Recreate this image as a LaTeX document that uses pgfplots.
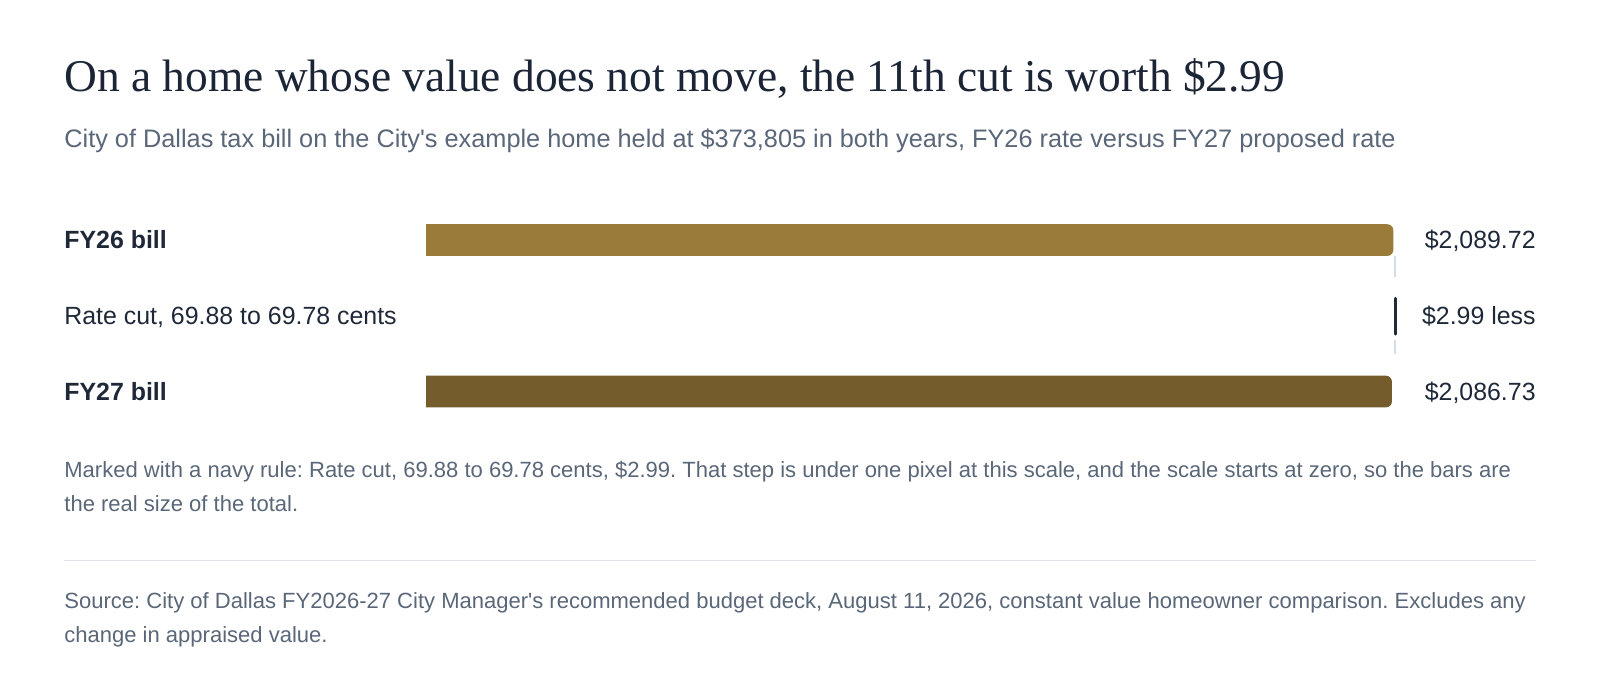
\documentclass[border=0pt]{standalone}
\usepackage{pgfplots}
\pgfplotsset{compat=1.18}
\usepackage{fontspec}
\setmainfont{Liberation Sans}
\newfontfamily\titlefont{Liberation Serif}
\definecolor{TitleInk}{HTML}{1B2535}
\definecolor{LabelInk}{HTML}{1E2838}
\definecolor{NoteInk}{HTML}{5A6778}
\definecolor{BarOld}{HTML}{9A7B3A}
\definecolor{BarNew}{HTML}{745C2C}
\definecolor{Navy}{HTML}{1F2A3A}
\definecolor{Guide}{HTML}{D6DCE3}
\definecolor{Rule}{HTML}{E0E3E7}

% 1 unit = 1 px of the 1600x694 reference
\begin{document}
\frenchspacing
\begin{tikzpicture}[x=0.5bp,y=-0.5bp]
    \path[use as bounding box] (0,0) rectangle (1600,694);
    \coordinate (plotcorner) at (426,429.4);

    % title and subtitle
    \node[anchor=base west, inner sep=0pt, text=TitleInk,
          font=\titlefont\fontsize{22.8}{26}\selectfont] at (64,91.7)
        {On a home whose value does not move, the 11th cut is worth \$2.99};
    \node[anchor=base west, inner sep=0pt, text=NoteInk,
          font=\fontsize{12.7}{15}\selectfont] at (64,148)
        {City of Dallas tax bill on the City\textquotesingle s example home held at \$373,805 in both years, FY26 rate versus FY27 proposed rate};

    % row labels
    \begin{scope}[every node/.style={inner sep=0pt, text=LabelInk, font=\fontsize{12.5}{15}\selectfont}]
        \node[anchor=base west, font=\fontsize{12.5}{15}\selectfont\bfseries] at (64,248) {FY26 bill};
        \node[anchor=base west] at (64,324) {Rate cut, 69.88 to 69.78 cents};
        \node[anchor=base west, font=\fontsize{12.5}{15}\selectfont\bfseries] at (64,400) {FY27 bill};
        \node[anchor=base east] at (1536,248) {\$2,089.72};
        \node[anchor=base east] at (1536,324) {\$2.99 less};
        \node[anchor=base east] at (1536,400) {\$2,086.73};
    \end{scope}

    \begin{axis}[
        at={(plotcorner)}, anchor=south west,
        scale only axis,
        width=490.65bp, height=113.6bp,
        xmin=0, xmax=2120,
        ymin=-0.5, ymax=2.5,
        hide axis,
        clip=true,
    ]
        % bars: start left of zero so only the right end is rounded
        \addplot[draw=none, fill=BarOld, rounded corners=3bp]
            coordinates {(-60,2.209) (2089.72,2.209) (2089.72,1.791) (-60,1.791)} -- cycle;
        \addplot[draw=none, fill=BarNew, rounded corners=3bp]
            coordinates {(-60,0.209) (2086.73,0.209) (2086.73,-0.209) (-60,-0.209)} -- cycle;

        % light guide at the FY26 total
        \addplot[Guide, line width=0.8bp, xshift=0.7bp]
            coordinates {(2089.72,1.789) (2089.72,1.512)};
        \addplot[Guide, line width=0.8bp, xshift=0.7bp]
            coordinates {(2089.72,0.680) (2089.72,0.495)};

        % navy rule for the 2.99 step
        \addplot[Navy, line width=1.65bp, line cap=round, xshift=1.2bp]
            coordinates {(2089.72,1.230) (2089.72,0.759)};
    \end{axis}

    % note, rule, source
    \begin{scope}[every node/.style={anchor=base west, inner sep=0pt, text=NoteInk, font=\fontsize{11.05}{13}\selectfont}]
        \node at (64,477.3) {Marked with a navy rule: Rate cut, 69.88 to 69.78 cents, \$2.99. That step is under one pixel at this scale, and the scale starts at zero, so the bars are};
        \node at (64,511.7) {the real size of the total.};
        \node at (64,608.3) {Source: City of Dallas FY2026-27 City Manager\textquotesingle s recommended budget deck, August 11, 2026, constant value homeowner comparison. Excludes any};
        \node at (64,642.7) {change in appraised value.};
    \end{scope}
    \draw[Rule, line width=0.75bp] (64,560.7) -- (1536,560.7);
\end{tikzpicture}
\end{document}
